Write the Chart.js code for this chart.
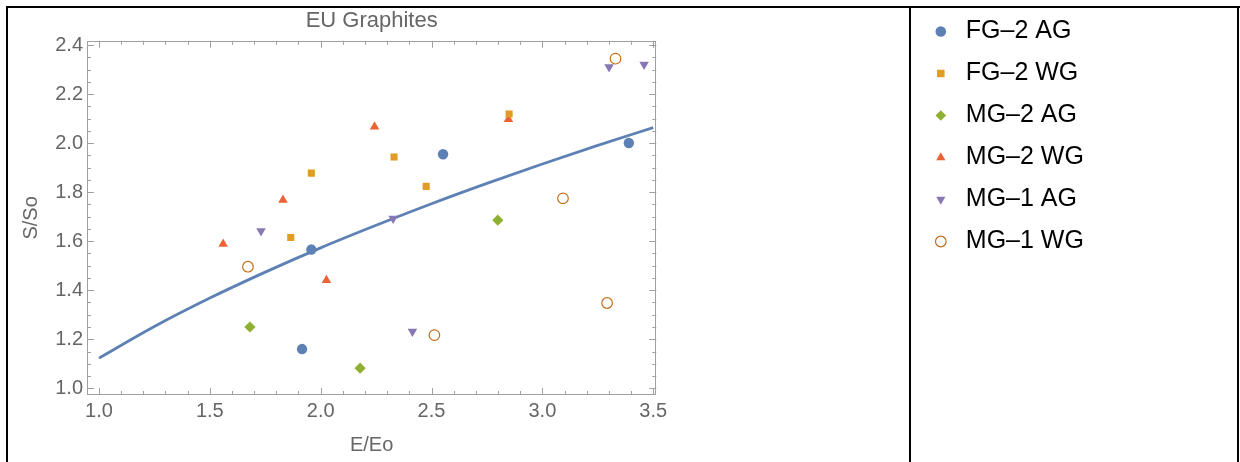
<!DOCTYPE html>
<html>
<head>
<meta charset="utf-8">
<title>EU Graphites</title>
<script src="https://cdn.jsdelivr.net/npm/chart.js@4.4.1/dist/chart.umd.min.js"></script>
<style>
  html, body { margin: 0; padding: 0; background: #fff; }
  #wrap { position: relative; width: 1240px; height: 462px; overflow: hidden; }
  #chart { position: absolute; left: 0; top: 0; }
  .rule { position: absolute; background: #000; }
</style>
</head>
<body>
<div id="wrap">
  <canvas id="chart" width="1240" height="462"></canvas>
  <div class="rule" style="left:6px;top:6px;width:2px;height:456px"></div>
  <div class="rule" style="left:6px;top:6px;width:1234px;height:2px"></div>
  <div class="rule" style="left:909px;top:6px;width:2px;height:456px"></div>
  <div class="rule" style="left:1237px;top:6px;width:2px;height:456px"></div>
</div>
<script>
// ---- data ----
const seriesNames = ['FG–2 AG', 'FG–2 WG', 'MG–2 AG', 'MG–2 WG', 'MG–1 AG', 'MG–1 WG'];

const fg2agX = [1.958, 1.916, 2.552, 3.390];
const fg2agY = [1.566, 1.160, 1.955, 2.001];

const fg2wgX = [1.865, 1.958, 2.331, 2.476, 2.850];
const fg2wgY = [1.615, 1.878, 1.944, 1.824, 2.119];

const mg2agX = [1.681, 2.178, 2.799];
const mg2agY = [1.250, 1.082, 1.686];

const mg2wgX = [1.560, 1.830, 2.026, 2.243, 2.847];
const mg2wgY = [1.589, 1.768, 1.441, 2.067, 2.098];

const mg1agX = [1.731, 2.327, 2.414, 3.301, 3.459];
const mg1agY = [1.642, 1.693, 1.232, 2.311, 2.321];

const mg1wgX = [1.672, 2.513, 3.093, 3.292, 3.330];
const mg1wgY = [1.496, 1.217, 1.775, 1.348, 2.345];

// fitted curve, read at a few E/Eo values
const fitX = [1.0, 1.25, 1.5, 1.75, 2.0, 2.25, 2.5, 2.75, 3.0, 3.25, 3.5];
const fitY = [1.123, 1.252, 1.368, 1.474, 1.573, 1.665, 1.753, 1.836, 1.915, 1.991, 2.064];

const xTicks = [1.0, 1.5, 2.0, 2.5, 3.0, 3.5];
const xTickLabels = ['1.0', '1.5', '2.0', '2.5', '3.0', '3.5'];
const yTicks = [1.0, 1.2, 1.4, 1.6, 1.8, 2.0, 2.2, 2.4];
const yTickLabels = ['1.0', '1.2', '1.4', '1.6', '1.8', '2.0', '2.2', '2.4'];

const FONT = "'Liberation Sans', Arial, sans-serif";
const GREY = '#666666';
const LEGEND_SIZE = 25;
const LEGEND_PAD = 17;

function pts(xs, ys) {
  return xs.map((x, i) => ({ x: x, y: ys[i] }));
}

function markers(label, xs, ys, color, style, radius, extra) {
  return Object.assign({
    label: label,
    data: pts(xs, ys),
    pointStyle: style,
    pointRadius: radius,
    pointHoverRadius: radius,
    backgroundColor: color,
    borderColor: color,
    pointBorderWidth: 0,
    borderWidth: 0
  }, extra || {});
}

// legend box width, so the plot keeps its place whatever the font measures
function legendWidth() {
  const ctx = document.createElement('canvas').getContext('2d');
  ctx.font = LEGEND_SIZE + 'px ' + FONT;
  const w = Math.max(...seriesNames.map(s => ctx.measureText(s).width));
  return LEGEND_PAD * 2 + LEGEND_SIZE * 1.5 + w - 9;
}
const rightPad = Math.max(0, 1240 - 656 - 255 - legendWidth());

// Mathematica-style frame with inward major/minor ticks on all sides
const frameTicks = {
  id: 'frameTicks',
  beforeDatasetsDraw(chart) {
    const { ctx, chartArea: a, scales: { x, y } } = chart;
    ctx.save();
    ctx.strokeStyle = '#a0a0a0';
    ctx.lineWidth = 1;
    ctx.strokeRect(Math.round(a.left) + 0.5, Math.round(a.top) + 0.5,
      Math.round(a.width) - 1, Math.round(a.height) - 1);
    ctx.beginPath();
    for (let i = Math.ceil(x.min * 10); i <= Math.floor(x.max * 10); i++) {
      const px = Math.round(x.getPixelForValue(i / 10)) + 0.5;
      const len = i % 5 === 0 ? 7 : 4;
      ctx.moveTo(px, a.bottom); ctx.lineTo(px, a.bottom - len);
      ctx.moveTo(px, a.top); ctx.lineTo(px, a.top + len);
    }
    for (let i = Math.ceil(y.min * 20); i <= Math.floor(y.max * 20); i++) {
      const py = Math.round(y.getPixelForValue(i / 20)) + 0.5;
      const len = i % 4 === 0 ? 7 : 4;
      ctx.moveTo(a.left, py); ctx.lineTo(a.left + len, py);
      ctx.moveTo(a.right, py); ctx.lineTo(a.right - len, py);
    }
    ctx.stroke();
    ctx.restore();
  }
};

new Chart(document.getElementById('chart'), {
  type: 'scatter',
  data: {
    datasets: [
      markers(seriesNames[0], fg2agX, fg2agY, '#5E81B5', 'circle', 5.2),
      markers(seriesNames[1], fg2wgX, fg2wgY, '#E09C24', 'rect', 5.0),
      markers(seriesNames[2], mg2agX, mg2agY, '#8FB032', 'rectRot', 5.6),
      markers(seriesNames[3], mg2wgX, mg2wgY, '#EB6235', 'triangle', 5.5),
      markers(seriesNames[4], mg1agX, mg1agY, '#8778B3', 'triangle', 5.5, { pointRotation: 180 }),
      markers(seriesNames[5], mg1wgX, mg1wgY, '#C56E1A', 'circle', 5.3, {
        backgroundColor: 'rgba(0,0,0,0)', pointBorderWidth: 1.2, borderWidth: 1.2
      }),
      {
        label: 'fit',
        data: pts(fitX, fitY),
        showLine: true,
        pointRadius: 0,
        borderColor: '#5E81B5',
        borderWidth: 2.8,
        cubicInterpolationMode: 'monotone',
        fill: false
      }
    ]
  },
  options: {
    responsive: false,
    animation: false,
    layout: { padding: { left: 10, top: 2, right: rightPad, bottom: 0 } },
    plugins: {
      title: {
        display: true,
        text: 'EU Graphites',
        fullSize: false,
        color: GREY,
        font: { family: FONT, size: 22, weight: 'normal' },
        padding: { top: 6, bottom: 6.4 }
      },
      legend: {
        position: 'right',
        align: 'start',
        labels: {
          usePointStyle: true,
          boxHeight: 7.5,
          padding: LEGEND_PAD,
          color: '#000',
          font: { family: FONT, size: LEGEND_SIZE },
          filter: item => item.datasetIndex < 6
        }
      },
      tooltip: { enabled: false }
    },
    scales: {
      x: {
        type: 'linear',
        position: 'bottom',
        min: 0.946,
        max: 3.514,
        afterBuildTicks: s => { s.ticks = xTicks.map(v => ({ value: v })); },
        afterFit: s => { s.height = 67; },
        grid: { display: false, drawTicks: false },
        border: { display: false },
        ticks: {
          color: GREY,
          padding: 4,
          font: { family: FONT, size: 20 },
          callback: v => xTickLabels[xTicks.indexOf(v)]
        },
        title: {
          display: true,
          text: 'E/Eo',
          color: GREY,
          font: { family: FONT, size: 20 },
          padding: { top: 0, bottom: 5 }
        }
      },
      y: {
        type: 'linear',
        position: 'left',
        min: 0.9725,
        max: 2.418,
        afterBuildTicks: s => { s.ticks = yTicks.map(v => ({ value: v })); },
        afterFit: s => { s.width = 77; },
        grid: { display: false, drawTicks: false },
        border: { display: false },
        ticks: {
          color: GREY,
          padding: 4,
          font: { family: FONT, size: 20 },
          callback: v => yTickLabels[yTicks.indexOf(v)]
        },
        title: {
          display: true,
          text: 'S/So',
          color: GREY,
          font: { family: FONT, size: 20 },
          padding: { top: 9, bottom: 0 }
        }
      },
      // empty spacer between the plot and the legend column
      gap: {
        type: 'linear',
        position: 'right',
        afterFit: s => { s.width = 255; },
        grid: { display: false, drawTicks: false },
        border: { display: false },
        ticks: { display: false }
      }
    }
  },
  plugins: [frameTicks]
});
</script>
</body>
</html>
